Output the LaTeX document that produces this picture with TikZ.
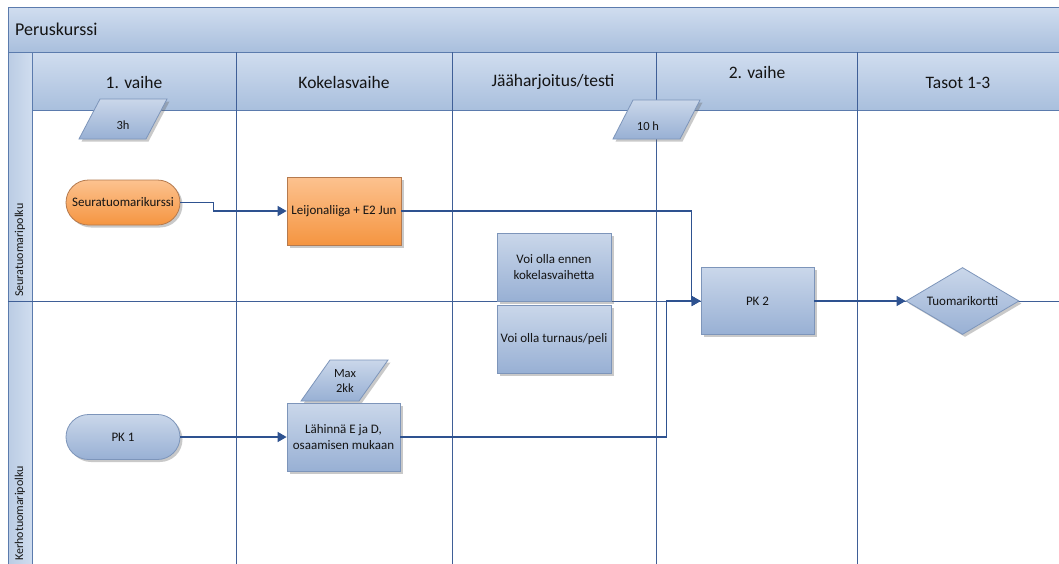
\documentclass[tikz,border=0pt]{standalone}
\usepackage{fontspec}
\setmainfont{Carlito}
\usetikzlibrary{arrows.meta,shapes.geometric,shadows}
\definecolor{bandtop}{HTML}{D0DDEF}
\definecolor{bandbot}{HTML}{A9BFDD}
\definecolor{framec}{HTML}{5B7BAD}
\definecolor{gridc}{HTML}{3F5F97}
\definecolor{connc}{HTML}{2E5290}
\definecolor{boxtop}{HTML}{CAD7EA}
\definecolor{boxbot}{HTML}{98B0D4}
\definecolor{boxline}{HTML}{7D95BA}
\definecolor{ortop}{HTML}{FCC28F}
\definecolor{orbot}{HTML}{F59541}
\definecolor{orline}{HTML}{B57A4E}
\definecolor{txt}{HTML}{141414}
\tikzset{
  band/.style={top color=bandtop,bottom color=bandbot},
  frameline/.style={draw=framec,line width=0.9pt},
  gridline/.style={draw=gridc,line width=0.8pt},
  conn/.style={draw=connc,line width=1.4pt,-{Triangle[length=9pt,width=10pt]}},
  shad/.style={drop shadow={shadow xshift=2.5pt,shadow yshift=-2.5pt,opacity=0.35,fill=black!60}},
  bluebox/.style={rectangle,shad,top color=boxtop,bottom color=boxbot,draw=boxline,line width=0.8pt,inner sep=0pt,align=center,text=txt,font=\fontsize{13}{15.5}\selectfont},
  orbox/.style={rectangle,shad,top color=ortop,bottom color=orbot,draw=orline,line width=0.8pt,inner sep=0pt,align=center,text=txt,font=\fontsize{13}{15.5}\selectfont},
  para/.style={shad,top color=boxtop,bottom color=boxbot,draw=boxline,line width=0.8pt},
  smalltxt/.style={text=txt,align=center,inner sep=0pt,font=\fontsize{12.5}{15}\selectfont},
  headtxt/.style={text=txt,inner sep=0pt,font=\fontsize{17.5}{20}\selectfont},
  lanetxt/.style={text=txt,inner sep=0pt,rotate=90,anchor=west,font=\fontsize{12}{13}\selectfont}
}
\begin{document}
\begin{tikzpicture}[x=1pt,y=-1pt]
\useasboundingbox (0,0) rectangle (1059,563);
\clip (0,0) rectangle (1059,563);
\fill[white] (0,0) rectangle (1059,563);
% bands
\shade[band] (8,7) rectangle (1070,52);
\shade[band] (32,52) rectangle (1070,110);
\shade[left color=bandbot!80!white,right color=bandtop] (8,52) rectangle (32,570);
% frame lines
\draw[frameline] (1070,7) -- (8,7) -- (8,570);
\draw[frameline] (8,52) -- (1070,52);
\draw[frameline] (32,52) -- (32,570);
\draw[frameline] (32,110) -- (1070,110);
% column dividers
\foreach \cx in {236,452,656,857} {\draw[gridline] (\cx,52) -- (\cx,570);}
% lane divider
\draw[gridline] (8,301) -- (1070,301);
% texts of bands
\node[anchor=west,text=txt,inner sep=0pt,font=\fontsize{18}{21}\selectfont] (title) at (15,29) {Peruskurssi};
\node[headtxt] (h1) at (134,82) {1. vaihe};
\node[headtxt] (h2) at (344,82) {Kokelasvaihe};
\node[headtxt] (h3) at (553,82) {Jääharjoitus/testi};
\node[headtxt] (h4) at (757,72) {2. vaihe};
\node[headtxt] (h5) at (958,83) {Tasot 1-3};
\node[lanetxt] (lane1) at (20,297) {Seuratuomaripolku};
\node[lanetxt] (lane2) at (20,561) {Kerhotuomaripolku};
% parallelograms
\path[para] (100,99) -- (167,99) -- (146,139) -- (79,139) -- cycle;
\node[smalltxt] (t3h) at (123,125) {3h};
\path[para] (633,100) -- (700,100) -- (680,139) -- (613,139) -- cycle;
\node[smalltxt] (t10h) at (648,126) {10 h};
\path[para] (330,360) -- (388,360) -- (359,401) -- (301,401) -- cycle;
\node[smalltxt] (tmax) at (345,380.5) {Max\\2kk};
% nodes
\node[orbox,rounded corners=22.5pt,minimum width=114pt,minimum height=45pt] (seura) at (123,202.5) {Seuratuomarikurssi};
\node[orbox,minimum width=114pt,minimum height=68pt] (leijona) at (344,211) {Leijonaliiga + E2 Jun};
\node[bluebox,minimum width=114pt,minimum height=68pt] (voi1) at (554,267) {Voi olla ennen\\kokelasvaihetta};
\node[bluebox,minimum width=114pt,minimum height=68pt] (voi2) at (554,339) {Voi olla turnaus/peli};
\node[bluebox,minimum width=113pt,minimum height=67pt] (pk2) at (757.5,301) {PK 2};
\node[bluebox,shape=diamond,aspect=1.7,minimum width=113pt,minimum height=67pt] (tuomari) at (962.5,301) {Tuomarikortti};
\node[bluebox,rounded corners=22.5pt,minimum width=114pt,minimum height=45pt] (pk1) at (123,437) {PK 1};
\node[bluebox,minimum width=113pt,minimum height=68pt] (lahinna) at (343.5,437) {Lähinnä E ja D,\\osaamisen mukaan};
% connectors
\draw[conn] (seura.east) -- ++(33,0) |- (leijona.west);
\draw[conn] (leijona.east) -| ([xshift=-9pt]pk2.west) -- (pk2.west);
\draw[conn] (lahinna.east) -| ([xshift=-34pt]pk2.west) -- (pk2.west);
\draw[conn] (pk1.east) -- (lahinna.west);
\draw[conn] (pk2.east) -- (tuomari.west);
\end{tikzpicture}
\end{document}
